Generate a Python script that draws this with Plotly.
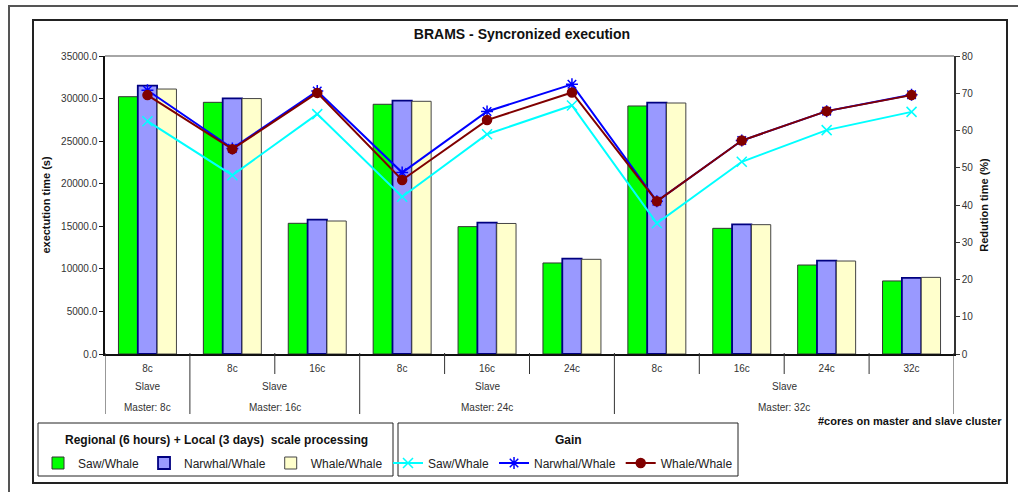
import plotly.graph_objects as go

# ---------------- data ----------------
slave_cores = ["8c", "8c", "16c", "8c", "16c", "24c", "8c", "16c", "24c", "32c"]
master_groups = ["Master: 8c", "Master: 16c", "Master: 24c", "Master: 32c"]
group_sizes = [1, 2, 3, 4]
slave_label = "Slave"

bar_names = ["Saw/Whale", "Narwhal/Whale", "Whale/Whale"]
bar_saw = [30220, 29560, 15350, 29330, 14960, 10690, 29130, 14760, 10450, 8580]
bar_narwhal = [31510, 30030, 15780, 29750, 15420, 11200, 29520, 15230, 10960, 8930]
bar_whale = [31120, 30000, 15620, 29680, 15330, 11120, 29480, 15190, 10920, 9000]

gain_saw = [62.5, 48.0, 64.4, 42.2, 59.0, 66.7, 35.1, 51.6, 60.1, 65.0]
gain_narwhal = [70.8, 55.2, 70.6, 48.7, 65.1, 72.4, 41.0, 57.3, 65.2, 69.6]
gain_whale = [69.5, 55.0, 70.1, 46.7, 62.8, 70.2, 41.0, 57.3, 65.2, 69.5]

# ---------------- layout helpers ----------------
W, H = 1018, 492
L, R, T, B = 105, 954, 56, 354  # plot area in pixels
FONT = "Liberation Sans, Arial, sans-serif"


def px(x):
    return (x - L) / (R - L)


def py(y):
    return (B - y) / (B - T)


xs = list(range(len(slave_cores)))

fig = go.Figure()

bar_styles = [
    dict(color="#00FF00", line=dict(color="#333333", width=1)),
    dict(color="#9999FF", line=dict(color="#000080", width=1.8)),
    dict(color="#FFFFCC", line=dict(color="#444444", width=1)),
]
for name, vals, st in zip(bar_names, [bar_saw, bar_narwhal, bar_whale], bar_styles):
    fig.add_trace(go.Bar(x=xs, y=vals, name=name, marker=st, legend="legend",
                         yaxis="y"))

line_styles = [
    dict(color="#00FFFF", symbol="x-thin-open", size=10),
    dict(color="#0000FF", symbol="asterisk-open", size=10),
    dict(color="#800000", symbol="circle", size=9),
]
for name, vals, st in zip(bar_names, [gain_saw, gain_narwhal, gain_whale], line_styles):
    fig.add_trace(go.Scatter(
        x=xs, y=vals, name=name, mode="lines+markers", yaxis="y2", legend="legend2",
        line=dict(color=st["color"], width=2),
        marker=dict(symbol=st["symbol"], size=st["size"], color=st["color"],
                    line=dict(color=st["color"], width=1.5)),
    ))

shapes = []
# outer frame (cropped) and inner chart frame
shapes.append(dict(type="rect", xref="paper", yref="paper", x0=px(9), y0=py(6), x1=px(1040),
                   y1=py(520), line=dict(color="#555555", width=2)))
shapes.append(dict(type="rect", xref="paper", yref="paper", x0=px(33), y0=py(20), x1=px(1007),
                   y1=py(483), line=dict(color="#222222", width=2)))
# top border of plot area
shapes.append(dict(type="line", xref="paper", yref="paper", x0=0, x1=1, y0=1, y1=1,
                   line=dict(color="#888888", width=1.5)))

# category separators
bounds = [-0.5]
for s in group_sizes:
    bounds.append(bounds[-1] + s)
for i in range(len(slave_cores) + 1):
    b = i - 0.5
    if b in bounds:
        y1 = py(414)
    else:
        y1 = py(374)
    shapes.append(dict(type="line", xref="x", yref="paper", x0=b, x1=b, y0=py(353), y1=y1,
                       line=dict(color="#333333", width=1)))

# legend boxes
shapes.append(dict(type="rect", xref="paper", yref="paper", x0=px(38), x1=px(393),
                   y0=py(423), y1=py(476), line=dict(color="#222222", width=1)))
shapes.append(dict(type="rect", xref="paper", yref="paper", x0=px(398), x1=px(738),
                   y0=py(423), y1=py(476), line=dict(color="#222222", width=1)))

annotations = []
for k, g in enumerate(master_groups):
    center = bounds[k] + group_sizes[k] / 2
    annotations.append(dict(x=center, y=py(387), xref="x", yref="paper", text=slave_label,
                            xanchor="center", yanchor="middle",
                            showarrow=False, font=dict(size=10, color="#333333", family=FONT)))
    annotations.append(dict(x=center, y=py(407), xref="x", yref="paper", text=g,
                            xanchor="center", yanchor="middle",
                            showarrow=False, font=dict(size=10, color="#333333", family=FONT)))

annotations.append(dict(x=px(1004), y=py(421), xref="paper", yref="paper", xanchor="right",
                        yanchor="middle",
                        text="#cores on master and slave cluster", showarrow=False,
                        font=dict(size=11, color="#111111", family=FONT, weight="bold")))
annotations.append(dict(x=px(216), y=py(440), xref="paper", yref="paper",
                        xanchor="center", yanchor="middle",
                        text="Regional (6 hours) + Local (3 days) \u00a0scale processing",
                        showarrow=False,
                        font=dict(size=12, color="#111111", family=FONT, weight="bold")))
annotations.append(dict(x=px(568), y=py(440), xref="paper", yref="paper", text="Gain",
                        xanchor="center", yanchor="middle",
                        showarrow=False,
                        font=dict(size=12, color="#111111", family=FONT, weight="bold")))

fig.update_layout(
    width=W, height=H,
    margin=dict(l=L, r=W - R, t=T, b=H - B, pad=0),
    paper_bgcolor="white", plot_bgcolor="white",
    font=dict(family=FONT, size=10, color="#222222"),
    title=dict(text="BRAMS - Syncronized execution", x=px(522), xref="paper", xanchor="center",
               y=1 - 34 / H, yanchor="middle",
               font=dict(size=14, color="#111111", family=FONT, weight="bold")),
    barmode="group", bargap=0.317, bargroupgap=0,
    xaxis=dict(range=[-0.5, 9.5], tickvals=xs, ticktext=slave_cores, ticks="",
               showline=True, linecolor="#111111", linewidth=2, showgrid=False,
               zeroline=False, tickfont=dict(size=10, color="#333333"),
               ticklabelstandoff=4),
    yaxis=dict(range=[0, 35000], dtick=5000, tickformat=".1f", ticks="outside", ticklen=4,
               tickcolor="#111111", showline=True, linecolor="#111111", linewidth=1.5,
               showgrid=False, zeroline=False, tickfont=dict(size=10, color="#333333"),
               title=dict(text="exectution time (s)", standoff=8,
                          font=dict(size=11, color="#111111", weight="bold"))),
    yaxis2=dict(range=[0, 80], dtick=10, overlaying="y", side="right", ticks="outside",
                ticklen=4, tickcolor="#333333", showline=True, linecolor="#333333",
                linewidth=1.5, showgrid=False, zeroline=False,
                tickfont=dict(size=10, color="#333333"),
                title=dict(text="Redution time (%)", standoff=8,
                           font=dict(size=11, color="#111111", weight="bold"))),
    legend=dict(orientation="h", x=px(38), y=py(463), xanchor="left", yanchor="middle",
                bgcolor="rgba(0,0,0,0)", font=dict(size=12, color="#222222"),
                traceorder="normal"),
    legend2=dict(orientation="h", x=px(388), y=py(463), xanchor="left", yanchor="middle",
                 bgcolor="rgba(0,0,0,0)", font=dict(size=12, color="#222222"),
                 traceorder="normal"),
    shapes=shapes,
    annotations=annotations,
)

fig.write_html("out.html", config={"displayModeBar": False},
               post_script="document.body.style.margin='0';")
